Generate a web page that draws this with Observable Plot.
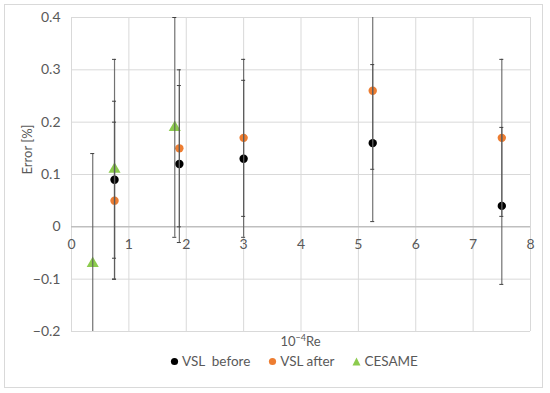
<!DOCTYPE html>
<html>
<head>
<meta charset="utf-8">
<script src="https://cdn.jsdelivr.net/npm/d3@7"></script>
<script src="https://cdn.jsdelivr.net/npm/@observablehq/plot@0.6"></script>
<style>
  html, body { margin: 0; padding: 0; background: #fff; }
  body { width: 550px; height: 393px; position: relative; overflow: hidden; font-family: Lato, "Open Sans", sans-serif; }
  #frame { position: absolute; left: 4px; top: 4px; width: 539px; height: 384px; border: 1px solid #d9d9d9; box-sizing: border-box; }
  #chart { position: absolute; left: 0; top: 0; }
  #xlabel { position: absolute; left: 0; width: 601px; top: 332px; text-align: center; font-size: 13px; color: #595959; }
  #xlabel sup { font-size: 9px; }
  #legend { position: absolute; left: 0; width: 588px; top: 353px; text-align: center; font-size: 13.5px; color: #595959; white-space: nowrap; }
  #legend span.item { margin: 0 9px; }
  #legend svg { vertical-align: middle; margin-right: 3px; position: relative; top: -1px; }
</style>
</head>
<body>
<div id="frame"></div>
<div id="chart"></div>
<div id="xlabel"></div>
<div id="legend"></div>
<script>
// Series data
const vslBeforeX = [0.75, 1.88, 3.0, 5.25, 7.5];
const vslBeforeY = [0.09, 0.12, 0.13, 0.16, 0.04];
const vslBeforeLo = [-0.06, -0.03, -0.02, 0.01, -0.11];
const vslBeforeHi = [0.24, 0.27, 0.28, 0.31, 0.19];

const vslAfterX = [0.75, 1.88, 3.0, 5.25, 7.5];
const vslAfterY = [0.05, 0.15, 0.17, 0.26, 0.17];
const vslAfterLo = [-0.10, 0.00, 0.02, 0.11, 0.02];
const vslAfterHi = [0.20, 0.30, 0.32, 0.41, 0.32];

const cesameX = [0.37, 0.75, 1.8];
const cesameY = [-0.07, 0.11, 0.19];
const cesameLo = [-0.28, -0.10, -0.02];
const cesameHi = [0.14, 0.32, 0.40];

const xTicks = [0, 1, 2, 3, 4, 5, 6, 7, 8];
const yTicks = [-0.2, -0.1, 0, 0.1, 0.2, 0.3, 0.4];
const seriesNames = ["VSL  before", "VSL after", "CESAME"];
const seriesColors = ["#000000", "#ED7D31", "#8CCB4E"];
const xLabelBase = "10";
const xLabelSup = "\u2212" + "4";
const xLabelTail = "Re";
const yLabel = "Error [%]";

function build(xs, ys, lo, hi, name) {
  return xs.map((x, i) => ({x, y: ys[i], lo: lo[i], hi: hi[i], name}));
}
const before = build(vslBeforeX, vslBeforeY, vslBeforeLo, vslBeforeHi, seriesNames[0]);
const after = build(vslAfterX, vslAfterY, vslAfterLo, vslAfterHi, seriesNames[1]);
const cesame = build(cesameX, cesameY, cesameLo, cesameHi, seriesNames[2]);
const all = [...before, ...after, ...cesame];
const capHalf = 0.035;
const yMin = -0.2, yMax = 0.4;

const fmtY = d => d === 0 ? "0" : d3.format(".1f")(d).replace("-", "\u2212");

const chart = Plot.plot({
  width: 550,
  height: 345,
  marginLeft: 71,
  marginRight: 20,
  marginTop: 17,
  marginBottom: 14,
  style: {fontFamily: "Lato, 'Open Sans', sans-serif", fontSize: "13px", color: "#595959", background: "transparent"},
  x: {domain: [0, 8], axis: null},
  y: {domain: [yMin, yMax], axis: null},
  marks: [
    Plot.ruleX(xTicks, {x: d => d, stroke: "#d9d9d9", strokeWidth: 1}),
    Plot.ruleY(yTicks.filter(d => d !== 0), {y: d => d, stroke: "#d9d9d9", strokeWidth: 1}),
    Plot.ruleY([0], {y: d => d, stroke: "#bfbfbf", strokeWidth: 1.5}),
    Plot.axisY(yTicks, {tickSize: 0, tickPadding: 11, tickFormat: fmtY, fontSize: 14, fill: "#595959", label: null}),
    Plot.text(xTicks, {x: d => d, y: 0, dy: 18, text: d => String(d), fontSize: 14, fill: "#595959"}),
    Plot.text([yLabel], {frameAnchor: "left", dx: -44, rotate: -90, text: d => d, fontSize: 13, fill: "#595959"}),
    Plot.dot(before, {x: "x", y: "y", r: 4.2, fill: seriesColors[0], stroke: "none"}),
    Plot.dot(after, {x: "x", y: "y", r: 4.2, fill: seriesColors[1], stroke: "none"}),
    Plot.dot(cesame, {x: "x", y: "y", r: 4.5, symbol: "triangle", fill: seriesColors[2], stroke: "none"}),
    Plot.ruleX(all, {x: "x", y1: d => Math.max(d.lo, yMin), y2: d => Math.min(d.hi, yMax), stroke: "#595959", strokeWidth: 1.2, strokeOpacity: 0.85}),
    Plot.ruleY(all.filter(d => d.hi <= yMax), {y: "hi", x1: d => d.x - capHalf, x2: d => d.x + capHalf, stroke: "#404040", strokeWidth: 1}),
    Plot.ruleY(all.filter(d => d.lo >= yMin), {y: "lo", x1: d => d.x - capHalf, x2: d => d.x + capHalf, stroke: "#404040", strokeWidth: 1})
  ]
});
document.getElementById("chart").appendChild(chart);

document.getElementById("xlabel").innerHTML = `${xLabelBase}<sup>${xLabelSup}</sup>${xLabelTail}`;

const legend = document.getElementById("legend");
seriesNames.forEach((name, i) => {
  const item = document.createElement("span");
  item.className = "item";
  const shape = i === 2
    ? `<svg width="9" height="9"><polygon points="4.5,0.5 8.5,8.5 0.5,8.5" fill="${seriesColors[i]}"/></svg>`
    : `<svg width="9" height="9"><circle cx="4.5" cy="4.5" r="3.6" fill="${seriesColors[i]}"/></svg>`;
  item.innerHTML = shape + `<span style="white-space:pre">${name}</span>`;
  legend.appendChild(item);
});
</script>
</body>
</html>
